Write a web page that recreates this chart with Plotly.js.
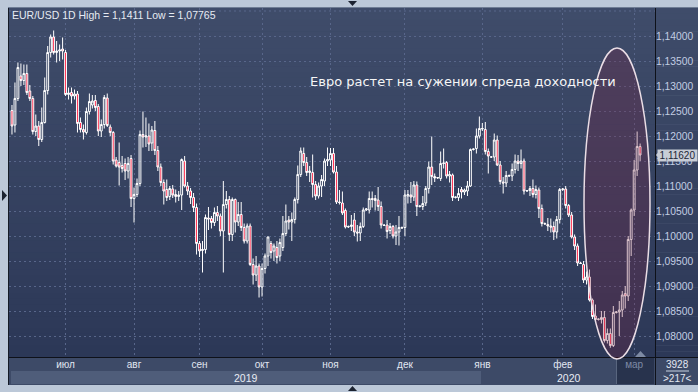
<!DOCTYPE html>
<html><head><meta charset="utf-8">
<script src="https://cdn.plot.ly/plotly-3.0.1.min.js"></script>
<style>html,body{margin:0;padding:0;background:#bcc8d8;overflow:hidden}#chart{width:698px;height:392px}</style>
</head><body><div id="chart"></div>
<script>
// ---- DATA (EUR/USD daily) ----
const openPx = [
1.1251,1.1222,1.1275,1.1320,1.1311,1.1325,1.1290,1.1275,1.1209,1.1220,1.1193,1.1227,1.1291,1.1367,1.1398,1.1367,1.1370,1.1374,
1.1367,1.1283,1.1287,1.1280,1.1284,1.1227,1.1213,1.1207,1.1249,1.1262,1.1271,1.1259,1.1210,1.1223,1.1276,1.1218,1.1207,1.1152,1.1147,1.1141,1.1145,1.1130,1.1155,
1.1075,1.1083,1.1105,1.1203,1.1198,1.1200,1.1186,1.1211,1.1171,1.1138,1.1107,1.1093,1.1079,1.1094,1.1083,1.1079,1.1082,1.1150,1.1100,1.1090,1.1077,1.1057,
1.0985,1.0971,1.0973,1.1036,1.1035,1.1027,1.1047,1.1040,1.1010,1.1063,1.1073,1.1003,1.1073,1.1028,1.1043,1.1017,1.0990,1.1020,1.0943,1.0922,1.0940,
1.0898,1.0935,1.0960,1.0985,1.0970,1.0977,1.0960,1.0977,1.1005,1.1032,1.1028,1.1033,1.1073,1.1123,1.1165,1.1147,1.1127,1.1127,1.1103,1.1080,1.1100,1.1110,1.1150,
1.1152,1.1165,1.1128,1.1068,1.1066,1.1051,1.1018,1.1019,1.1032,1.1008,1.1006,1.1019,1.1052,1.1052,1.1075,1.1075,1.1072,1.1059,1.1022,1.1022,1.1011,1.1019,1.1000,1.1008,1.1017,
1.1017,1.1080,1.1082,1.1078,1.1102,1.1059,1.1059,1.1066,1.1095,1.1138,1.1119,1.1116,1.1115,1.1145,1.1147,1.1120,1.1122,1.1077,1.1077,1.1093,1.1088,1.1090,1.1100,1.1173,1.1175,1.1200,
1.1214,1.1213,1.1169,1.1158,1.1158,1.1192,1.1142,1.1108,1.1106,1.1121,1.1120,1.1133,1.1150,1.1145,1.1150,1.1090,1.1091,1.1095,1.1083,1.1092,1.1055,1.1025,1.1023,1.1020,1.1019,1.1008,1.1033,
1.1093,1.1094,1.1061,1.1042,1.0998,1.0980,1.0946,1.0943,1.0912,1.0918,1.0872,1.0840,1.0833,1.0833,1.0837,1.0791,1.0805,1.0781,1.0847,1.0848,1.0852,1.0885,1.0880,1.0993,
1.1052,1.1132,1.1179];
const highPx = [
1.1262,1.1307,1.1347,1.1345,1.1343,1.1343,1.1302,1.1280,1.1243,1.1230,1.1257,1.1317,1.1380,1.1403,1.1411,1.1390,1.1383,1.1397,
1.1372,1.1297,1.1297,1.1293,1.1290,1.1237,1.1223,1.1257,1.1285,1.1282,1.1282,1.1264,1.1233,1.1282,1.1285,1.1223,1.1210,1.1158,1.1187,1.1160,1.1155,1.1158,1.1162,
1.1097,1.1115,1.1211,1.1249,1.1237,1.1225,1.1220,1.1230,1.1180,1.1145,1.1113,1.1113,1.1100,1.1102,1.1093,1.1090,1.1155,1.1160,1.1108,1.1096,1.1086,1.1065,
1.0990,1.0990,1.1043,1.1058,1.1040,1.1057,1.1060,1.1045,1.1110,1.1090,1.1080,1.1077,1.1075,1.1068,1.1068,1.1025,1.1025,1.1025,1.0955,1.0960,1.0945,
1.0945,1.0965,1.0999,1.0990,1.0985,1.0990,1.0995,1.1040,1.1063,1.1040,1.1047,1.1077,1.1141,1.1177,1.1177,1.1158,1.1140,1.1163,1.1110,1.1107,1.1122,1.1155,1.1177,
1.1176,1.1176,1.1140,1.1092,1.1089,1.1055,1.1021,1.1042,1.1046,1.1022,1.1027,1.1057,1.1056,1.1089,1.1089,1.1082,1.1098,1.1069,1.1024,1.1032,1.1026,1.1022,1.1022,1.1040,1.1019,
1.1092,1.1092,1.1108,1.1110,1.1109,1.1061,1.1080,1.1100,1.1149,1.1199,1.1125,1.1118,1.1169,1.1175,1.1150,1.1130,1.1125,1.1079,1.1096,1.1098,1.1095,1.1110,1.1175,1.1175,1.1215,1.1239,
1.1226,1.1228,1.1175,1.1160,1.1205,1.1201,1.1150,1.1118,1.1130,1.1123,1.1145,1.1163,1.1162,1.1173,1.1155,1.1092,1.1100,1.1113,1.1101,1.1097,1.1063,1.1027,1.1036,1.1035,1.1029,1.1040,1.1096,
1.1096,1.1100,1.1064,1.1048,1.1003,1.0985,1.0948,1.0950,1.0929,1.0933,1.0875,1.0863,1.0835,1.0850,1.0850,1.0815,1.0815,1.0860,1.0850,1.0870,1.0890,1.0900,1.1000,1.1055,
1.1152,1.1209,1.1185];
const lowPx = [
1.1203,1.1207,1.1270,1.1300,1.1302,1.1282,1.1270,1.1203,1.1200,1.1180,1.1188,1.1225,1.1283,1.1357,1.1363,1.1347,1.1350,1.1353,
1.1280,1.1273,1.1265,1.1273,1.1207,1.1207,1.1193,1.1203,1.1243,1.1255,1.1250,1.1200,1.1198,1.1215,1.1218,1.1200,1.1143,1.1137,1.1101,1.1127,1.1112,1.1115,1.1058,
1.1027,1.1078,1.1100,1.1177,1.1178,1.1170,1.1170,1.1162,1.1130,1.1100,1.1063,1.1070,1.1072,1.1076,1.1067,1.1070,1.1052,1.1097,1.1082,1.1064,1.1048,1.0963,
1.0958,1.0927,1.0965,1.1012,1.1015,1.1020,1.1030,1.1000,1.0927,1.1055,1.0990,1.0990,1.1007,1.1020,1.1010,1.0985,1.0985,1.0940,1.0903,1.0910,1.0877,
1.0879,1.0925,1.0940,1.0955,1.0950,1.0945,1.0950,1.0970,1.1000,1.1013,1.0990,1.1025,1.1065,1.1118,1.1140,1.1120,1.1108,1.1077,1.1072,1.1075,1.1078,1.1100,1.1140,
1.1140,1.1125,1.1064,1.1063,1.1042,1.1015,1.1016,1.1010,1.1000,1.0989,1.0990,1.1016,1.1050,1.1045,1.1057,1.1051,1.1050,1.1015,1.1020,1.0995,1.1004,1.0995,1.0982,1.0981,1.1015,
1.1000,1.1065,1.1066,1.1070,1.1040,1.1057,1.1052,1.1060,1.1085,1.1102,1.1108,1.1114,1.1110,1.1135,1.1115,1.1107,1.1070,1.1075,1.1070,1.1075,1.1082,1.1080,1.1098,1.1171,1.1165,1.1195,
1.1210,1.1163,1.1125,1.1156,1.1150,1.1140,1.1103,1.1085,1.1098,1.1119,1.1110,1.1125,1.1130,1.1135,1.1083,1.1088,1.1080,1.1077,1.1075,1.1036,1.1019,1.1023,1.1010,1.1007,1.0992,1.0995,1.1025,
1.1090,1.1055,1.1038,1.0995,1.0972,1.0940,1.0944,1.0906,1.0903,1.0869,1.0834,1.0828,1.0831,1.0825,1.0787,1.0785,1.07765,1.0778,1.0845,1.0800,1.0838,1.0855,1.0870,1.0960,
1.1040,1.1120,1.1150];
const closePx = [
1.1220,1.1275,1.1337,1.1311,1.1325,1.1287,1.1275,1.1209,1.1220,1.1193,1.1227,1.1291,1.1367,1.1398,1.1367,1.1370,1.1372,1.1370,
1.1283,1.1286,1.1280,1.1284,1.1225,1.1213,1.1208,1.1249,1.1269,1.1270,1.1257,1.1210,1.1223,1.1277,1.1221,1.1207,1.1150,1.1140,1.1138,1.1135,1.1130,1.1145,1.1075,
1.1083,1.1105,1.1203,1.1198,1.1200,1.1184,1.1212,1.1171,1.1138,1.1107,1.1090,1.1077,1.1095,1.1082,1.1079,1.1082,1.1153,1.1100,1.1090,1.1077,1.1057,1.0985,
1.0970,1.0973,1.1037,1.1034,1.1027,1.1047,1.1040,1.1010,1.1063,1.1073,1.1003,1.1073,1.1028,1.1043,1.1017,1.0990,1.1020,1.0943,1.0922,1.0940,1.0898,
1.0935,1.0960,1.0998,1.0967,1.0980,1.0957,1.0987,1.1005,1.1030,1.1028,1.1033,1.1073,1.1123,1.1170,1.1147,1.1127,1.1130,1.1103,1.1080,1.1100,1.1113,1.1150,1.1153,
1.1165,1.1128,1.1068,1.1067,1.1046,1.1018,1.1019,1.1022,1.1008,1.1006,1.1019,1.1052,1.1054,1.1075,1.1073,1.1071,1.1059,1.1022,1.1021,1.1009,1.1019,1.1000,1.1008,1.1017,1.1016,
1.1082,1.1083,1.1078,1.1102,1.1059,1.1060,1.1065,1.1095,1.1138,1.1119,1.1116,1.1117,1.1145,1.1146,1.1120,1.1123,1.1077,1.1078,1.1085,1.1088,1.1092,1.1100,1.1173,1.1174,1.1200,1.1215,
1.1215,1.1169,1.1160,1.1158,1.1192,1.1142,1.1109,1.1106,1.1121,1.1120,1.1133,1.1150,1.1145,1.1150,1.1090,1.1091,1.1095,1.1083,1.1093,1.1055,1.1025,1.1024,1.1020,1.1018,1.1008,1.1033,1.1093,
1.1094,1.1061,1.1042,1.0998,1.0980,1.0946,1.0945,1.0912,1.0918,1.0872,1.0839,1.0833,1.0834,1.0837,1.0791,1.0805,1.0781,1.0847,1.0848,1.0852,1.0882,1.0880,1.0993,1.1052,
1.1132,1.1179,1.1162];
const monthLabels = ['июн','июл','авг','сен','окт','ноя','дек','янв','фев','мар'];
const barsPerMonth = [18,23,22,21,23,25,26,27,24,3];
const yearLabels = ['2019','2020'];
const priceTicks = [1.08,1.085,1.09,1.095,1.10,1.105,1.11,1.115,1.12,1.125,1.13,1.135,1.14];
const titleText = 'EUR/USD 1D High = 1,1411 Low = 1,07765';
const noteText = 'Евро растет на сужении спреда доходности';
const footerTop = '3928', footerBottom = '>217<';

// ---- LAYOUT HELPERS ----
const W=698,H=392,L=9,R=655,T=8,B=357;
const px = x => (x-L)/(R-L);
const py = y => (B-y)/(B-T);
const xs = closePx.map((_,i)=>i);
const starts=[]; let acc=0; barsPerMonth.forEach(n=>{starts.push(acc);acc+=n;});
const tickvals = starts.slice(1);
const ticktext = monthLabels.slice(1).map((m,k,arr)=> k===arr.length-1 ? '<span style="color:#7d8aa6">'+m+'</span>' : m);
const fmt = v => v.toFixed(5).replace('.',',');
const lastClose = closePx[closePx.length-1];
const FONT='Liberation Sans, Arial, sans-serif';

const shapes=[];
// gradient background for plot + right panel
const NB=60, c0=[63,76,106], c1=[44,56,87];
for(let k=0;k<NB;k++){
  const t=k/(NB-1);
  const c=c0.map((v,j)=>Math.round(v+(c1[j]-v)*t));
  shapes.push({type:'rect',xref:'paper',yref:'paper',layer:'below',
    x0:px(9),x1:px(698),y0:py(T+(B-T)*k/NB),y1:py(T+(B-T)*(k+1)/NB+0.5),
    fillcolor:`rgb(${c[0]},${c[1]},${c[2]})`,line:{width:0}});
}
// bottom strip
shapes.push({type:'rect',xref:'paper',yref:'paper',layer:'below',x0:px(9),x1:px(698),y0:py(357),y1:py(385),fillcolor:'#3d4a67',line:{width:0}});
shapes.push({type:'rect',xref:'paper',yref:'paper',layer:'below',x0:px(11),x1:px(481),y0:py(371),y1:py(384),fillcolor:'#4f5d7a',line:{width:0}});
shapes.push({type:'rect',xref:'paper',yref:'paper',layer:'below',x0:px(617),x1:px(654),y0:py(358),y1:py(384),fillcolor:'#28334d',line:{width:0}});
shapes.push({type:'line',xref:'paper',yref:'paper',x0:px(616.5),x1:px(616.5),y0:py(358),y1:py(384),line:{color:'#59667f',width:1}});
// 1.145 gridline (no label)
shapes.push({type:'line',xref:'paper',yref:'y',layer:'below',x0:0,x1:1,y0:1.145,y1:1.145,line:{color:'#58668a',width:1,dash:'2px,3px'}});
// frame lines
shapes.push({type:'line',xref:'paper',yref:'paper',x0:px(8.5),x1:px(8.5),y0:py(7),y1:py(385),line:{color:'#151b26',width:1}});
shapes.push({type:'line',xref:'paper',yref:'paper',x0:px(8),x1:px(698),y0:py(7.5),y1:py(7.5),line:{color:'#6f7d94',width:1}});
shapes.push({type:'line',xref:'paper',yref:'paper',x0:px(655.5),x1:px(655.5),y0:py(8),y1:py(385),line:{color:'#0e1119',width:1}});
shapes.push({type:'line',xref:'paper',yref:'paper',x0:px(9),x1:px(698),y0:py(357.5),y1:py(357.5),line:{color:'#0e1119',width:1}});
shapes.push({type:'line',xref:'paper',yref:'paper',x0:px(666),x1:px(689),y0:py(371),y1:py(371),line:{color:'#c9d2e2',width:1}});
// small triangles on the frame
const tri=(pts,col)=>({type:'path',xref:'paper',yref:'paper',path:'M '+pts.map(p=>px(p[0])+','+py(p[1])).join(' L ')+' Z',fillcolor:col,line:{width:0}});
shapes.push(tri([[348,1],[357,1],[352.5,6]],'#1b2230'));
shapes.push(tri([[2,190],[2,201],[7,195.5]],'#1b2230'));
shapes.push(tri([[348,391],[357,391],[352.5,386]],'#1b2230'));
shapes.push(tri([[635,357],[646,357],[640.5,351]],'#7d8aa3'));
// price label arrow
shapes.push({type:'path',xref:'paper',yref:'y',xsizemode:'pixel',ysizemode:'pixel',xanchor:1,yanchor:lastClose,
  path:'M 1,0 L 6,6 L 6,-6 Z',fillcolor:'#c8cdd6',line:{width:0}});
// highlight ellipse
shapes.push({type:'circle',xref:'paper',yref:'paper',layer:'above',x0:px(584),x1:px(650),y0:py(48),y1:py(359),
  fillcolor:'rgba(128,30,62,0.26)',line:{color:'#eadde5',width:1.5}});

const annotations=[
 {xref:'paper',yref:'paper',x:px(10),y:py(15),xanchor:'left',yanchor:'middle',showarrow:false,text:titleText,
  font:{family:FONT,size:10.5,color:'#e6ebf3'}},
 {xref:'paper',yref:'paper',x:px(463),y:py(81),xanchor:'center',yanchor:'middle',showarrow:false,text:noteText,
  font:{family:'DejaVu Sans, sans-serif',size:13,color:'#f6f6f6'}},
 {xref:'paper',yref:'y',x:px(657),y:lastClose,xanchor:'left',yanchor:'middle',showarrow:false,text:fmt(lastClose),
  bgcolor:'#c8cdd6',width:39,borderpad:0,font:{family:FONT,size:10,color:'#1c2537'}},
 {xref:'paper',yref:'paper',x:px(246),y:py(377.5),xanchor:'center',yanchor:'middle',showarrow:false,text:yearLabels[0],
  font:{family:FONT,size:10.5,color:'#e8ecf4'}},
 {xref:'paper',yref:'paper',x:px(569),y:py(377.5),xanchor:'center',yanchor:'middle',showarrow:false,text:yearLabels[1],
  font:{family:FONT,size:10.5,color:'#e8ecf4'}},
 {xref:'paper',yref:'paper',x:px(677),y:py(364),xanchor:'center',yanchor:'middle',showarrow:false,text:footerTop,
  font:{family:FONT,size:10,color:'#e3e8f2'}},
 {xref:'paper',yref:'paper',x:px(677),y:py(378.5),xanchor:'center',yanchor:'middle',showarrow:false,text:footerBottom.replace(/</g,'&lt;').replace(/>/g,'&gt;'),
  font:{family:FONT,size:10,color:'#e3e8f2'}}
];

const trace={type:'candlestick',x:xs,open:openPx,high:highPx,low:lowPx,close:closePx,
  increasing:{line:{color:'#ffffff',width:1},fillcolor:'rgba(0,0,0,0)'},
  decreasing:{line:{color:'#ffffff',width:1},fillcolor:'#ff1238'},
  whiskerwidth:0,hoverinfo:'skip'};

const layout={width:W,height:H,margin:{l:L,r:W-R,t:T,b:H-B,pad:0},
  paper_bgcolor:'#bcc8d8',plot_bgcolor:'#35425f',separators:', ',showlegend:false,boxgap:0.12,
  font:{family:FONT,size:10,color:'#c5cfe2'},
  xaxis:{type:'linear',range:[-1,216],tickmode:'array',tickvals:tickvals,ticktext:ticktext,showgrid:true,
    gridcolor:'#58668a',griddash:'2px,3px',gridwidth:1,zeroline:false,showline:false,ticks:'',
    tickfont:{size:10,color:'#e1e7f2'},rangeslider:{visible:false},fixedrange:true},
  yaxis:{side:'right',range:[1.0758,1.1456],tickmode:'array',tickvals:priceTicks,ticktext:priceTicks.map(fmt),
    showgrid:true,gridcolor:'#58668a',griddash:'2px,3px',gridwidth:1,zeroline:false,showline:false,ticks:'',
    tickfont:{size:10.3,color:'#c3cee3'},fixedrange:true},
  shapes:shapes,annotations:annotations};

Plotly.newPlot('chart',[trace],layout,{staticPlot:true,displayModeBar:false});
</script></body></html>
